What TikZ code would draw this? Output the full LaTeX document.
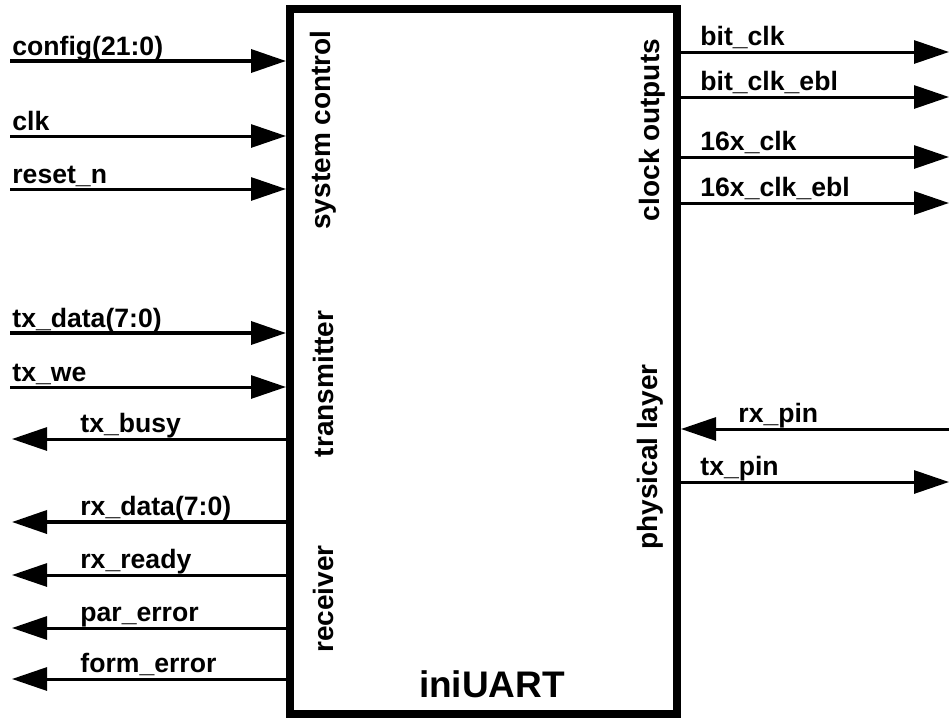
\documentclass[tikz,border=0pt]{standalone}
\usepackage{fontspec}
\setmainfont{Liberation Sans}
\usepackage{tikz}
\usetikzlibrary{arrows.meta,positioning}

\begin{document}
\begin{tikzpicture}[x=0.5pt,y=-0.5pt,
  every node/.style={font=\bfseries\fontsize{13.3}{15}\selectfont},
  blk/.style={draw,line width=4pt,minimum width=193.5pt,minimum height=352.5pt,inner sep=0pt},
  grp/.style={rotate=90,inner sep=0pt,font=\bfseries\fontsize{14}{16}\selectfont},
  lbl/.style={anchor=base west,inner sep=0pt},
  sig/.style={line width=1.5pt,-{Triangle[length=17.5pt,width=11.5pt]}},
  bus/.style={sig,line width=1.8pt}]
\useasboundingbox (0,0) rectangle (949,718);
% the block
\node[blk] (uart) at (483.5,361.5) {};
\node[font=\bfseries\fontsize{18.5}{21}\selectfont,inner sep=0pt] (name) at (492,684) {iniUART};
\node[grp] (g-sys) at (323,130) {system control};
\node[grp] (g-tx) at (323,384) {transmitter};
\node[grp] (g-rx) at (323,599) {receiver};
\node[grp] (g-clk) at (652,130) {clock outputs};
\node[grp] (g-phy) at (650,457) {physical layer};
% free ends of the signals
\coordinate (cfg) at (10,61);
\coordinate (clk) at (10,136);
\coordinate (rst) at (10,189);
\coordinate (txd) at (10,333);
\coordinate (txwe) at (10,387);
\coordinate (txbusy) at (12,439);
\coordinate (rxd) at (12,522);
\coordinate (rxrdy) at (12,575);
\coordinate (perr) at (12,628);
\coordinate (ferr) at (12,679);
\coordinate (bclk) at (949,52);
\coordinate (bclke) at (949,97);
\coordinate (xclk) at (949,157);
\coordinate (xclke) at (949,203);
\coordinate (rxpin) at (949,429);
\coordinate (txpin) at (949,482);
% signal names
\node[lbl] (l-cfg) at (12,55) {config(21:0)};
\node[lbl] (l-clk) at (12,130) {clk};
\node[lbl] (l-rst) at (12,183) {reset\_n};
\node[lbl] (l-txd) at (12,327) {tx\_data(7:0)};
\node[lbl] (l-txwe) at (12,381) {tx\_we};
\node[lbl] (l-txbusy) at (80,432) {tx\_busy};
\node[lbl] (l-rxd) at (80,515) {rx\_data(7:0)};
\node[lbl] (l-rxrdy) at (80,568) {rx\_ready};
\node[lbl] (l-perr) at (80,621) {par\_error};
\node[lbl] (l-ferr) at (80,672) {form\_error};
\node[lbl] (l-bclk) at (700,45) {bit\_clk};
\node[lbl] (l-bclke) at (700,90) {bit\_clk\_ebl};
\node[lbl] (l-xclk) at (700,150) {16x\_clk};
\node[lbl] (l-xclke) at (700,196) {16x\_clk\_ebl};
\node[lbl] (l-rxpin) at (738,422) {rx\_pin};
\node[lbl] (l-txpin) at (700,475) {tx\_pin};
% connectors
\foreach \s in {clk,rst,txwe} \draw[sig] (\s) -- (\s -| uart.west);
\foreach \s in {cfg,txd} \draw[bus] (\s) -- (\s -| uart.west);
\foreach \s in {txbusy,rxrdy,perr,ferr} \draw[sig] (\s -| uart.west) -- (\s);
\draw[bus] (rxd -| uart.west) -- (rxd);
\foreach \s in {bclk,bclke,xclk,xclke,txpin} \draw[sig] (\s -| uart.east) -- (\s);
\draw[sig] (rxpin) -- (rxpin -| uart.east);
\end{tikzpicture}
\end{document}
